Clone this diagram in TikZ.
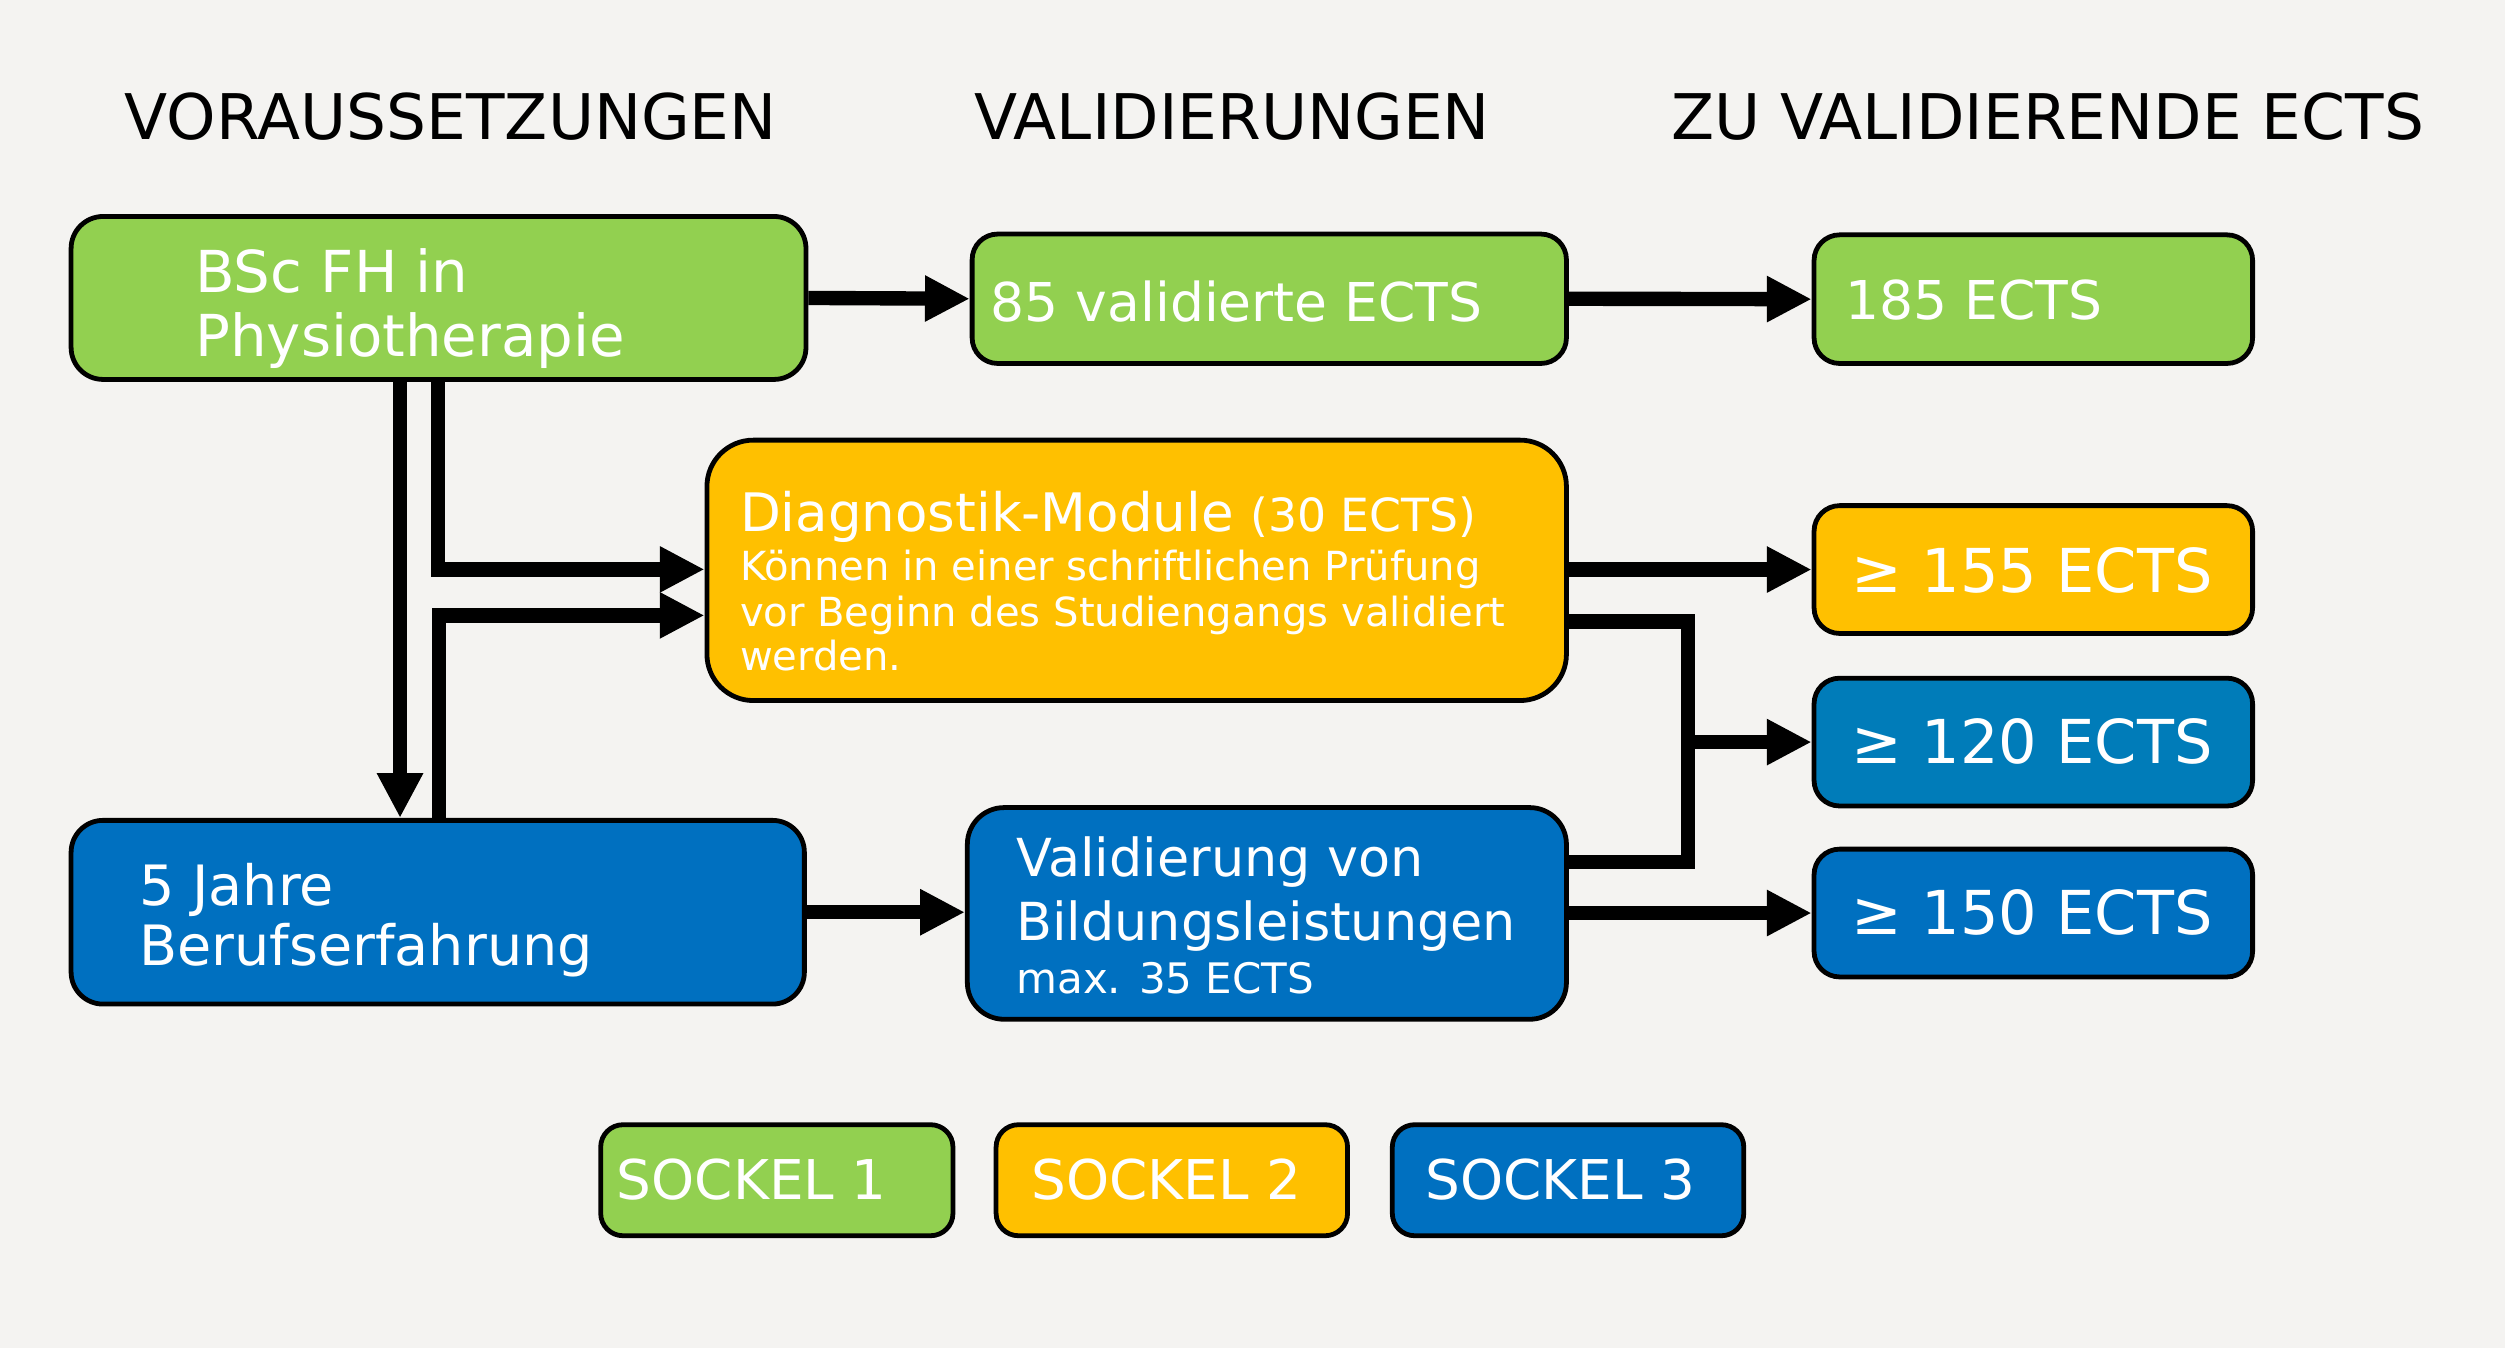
\documentclass[tikz,border=0pt]{standalone}
\usepackage{fontspec}
\setmainfont{DejaVu Sans}
\usetikzlibrary{arrows.meta,calc}
\definecolor{bgc}{HTML}{F4F3F1}
\definecolor{cgreen}{HTML}{92D050}
\definecolor{corange}{HTML}{FFC000}
\definecolor{cblue}{HTML}{0070C0}
\definecolor{cteal}{HTML}{007CB9}
\newcommand{\fsz}[1]{\fontsize{#1}{#1}\selectfont}
\begin{document}
\begin{tikzpicture}[x=1pt,y=-1pt,
  boxnode/.style={draw=black,line width=3pt,rounded corners=#1,inner sep=0pt},
  boxnode/.default=16pt,
  txt/.style={anchor=base west,inner sep=0pt,text=white},
  head/.style={anchor=base west,inner sep=0pt,text=black,font=\fsz{39.4}},
  arr/.style={line width=9pt,-{Triangle[length=28pt,width=27pt]}},
  conn/.style={line width=9pt}]
\fill[bgc] (0,0) rectangle (1568,843.8);
\useasboundingbox (0,0) rectangle (1568,843.8);

% headings
\node[head] (h1) at (78,87.6) {VORAUSSETZUNGEN};
\node[head] (h2) at (610,87.6) {VALIDIERUNGEN};
\node[head] (h3) at (1046,87.6) {ZU VALIDIERENDE ECTS};

% boxes
\node[boxnode=20pt,fill=cgreen,minimum width=460pt,minimum height=102pt] (bsc) at (274.5,186.5) {};
\node[boxnode,fill=cgreen,minimum width=372pt,minimum height=81pt] (v85) at (794.5,187) {};
\node[boxnode,fill=cgreen,minimum width=274.5pt,minimum height=80.5pt] (e185) at (1272.75,187.25) {};
\node[boxnode=29pt,fill=corange,minimum width=538pt,minimum height=163pt] (diag) at (711.5,357) {};
\node[boxnode,fill=corange,minimum width=274.5pt,minimum height=80pt] (e155) at (1272.75,356.5) {};
\node[boxnode,fill=cteal,minimum width=274.5pt,minimum height=80pt] (e120) at (1272.75,464.5) {};
\node[boxnode,fill=cblue,minimum width=274.5pt,minimum height=80pt] (e150) at (1272.75,571.5) {};
\node[boxnode=20pt,fill=cblue,minimum width=459pt,minimum height=115pt] (jahre) at (274,571) {};
\node[boxnode=23pt,fill=cblue,minimum width=375pt,minimum height=132.5pt] (valid) at (793,571.75) {};
\node[boxnode=14pt,fill=cgreen,minimum width=220.5pt,minimum height=69.5pt] (s1) at (486.25,738.75) {};
\node[boxnode=14pt,fill=corange,minimum width=220pt,minimum height=69.5pt] (s2) at (733.5,738.75) {};
\node[boxnode=14pt,fill=cblue,minimum width=220pt,minimum height=69.5pt] (s3) at (981.5,738.75) {};

% texts
\node[txt,font=\fsz{36.2}] (tb1) at (122,183) {BSc FH in};
\node[txt,font=\fsz{36.2}] (tb2) at (122,223) {Physiotherapie};
\node[txt,font=\fsz{33.5}] (t85) at (620,201) {85 validierte ECTS};
\node[txt,font=\fsz{33.5}] (t185) at (1155,200) {185 ECTS};
\node[txt,font=\fsz{33.2}] (td1) at (463,332.4) {Diagnostik-Module {\fsz{28.6}(30 ECTS)}};
\node[txt,font=\fsz{25.1}] (td2) at (463,363.5) {Können in einer schriftlichen Prüfung};
\node[txt,font=\fsz{25.1}] (td3) at (463,392.3) {vor Beginn des Studiengangs validiert};
\node[txt,font=\fsz{25.1}] (td4) at (463,419.8) {werden.};
\node[txt,font=\fsz{37.9}] (t155) at (1159,371) {≥ 155 ECTS};
\node[txt,font=\fsz{37.9}] (t120) at (1159,478) {≥ 120 ECTS};
\node[txt,font=\fsz{37.9}] (t150) at (1159,585) {≥ 150 ECTS};
\node[txt,font=\fsz{34.8}] (tj1) at (87,567) {5 Jahre};
\node[txt,font=\fsz{34.8}] (tj2) at (87,604.6) {Berufserfahrung};
\node[txt,font=\fsz{32.8}] (tv1) at (636,548.7) {Validierung von};
\node[txt,font=\fsz{32.8}] (tv2) at (636,588.4) {Bildungsleistungen};
\node[txt,font=\fsz{26.3}] (tv3) at (636,621.8) {max. 35 ECTS};
\node[txt,font=\fsz{34.3}] (ts1) at (386,751) {SOCKEL 1};
\node[txt,font=\fsz{34.3}] (ts2) at (645.5,751) {SOCKEL 2};
\node[txt,font=\fsz{34.3}] (ts3) at (892,751) {SOCKEL 3};

% connector coordinates
\coordinate (cA) at (250.4,300);
\coordinate (cB) at (274,356.4);
\coordinate (cC) at (274.7,385.2);
\coordinate (cD) at (1056.5,389);
\coordinate (cE) at (1056.5,539.4);

% connectors
\draw[arr] (bsc.east) -- (v85.west);
\draw[arr] (v85.east) -- (e185.west);
\draw[arr] (cA |- bsc.south) -- (cA |- jahre.north);
\draw[arr] (cB |- bsc.south) -- (cB) -- (diag.west |- cB);
\draw[arr] (cC |- jahre.north) -- (cC) -- (diag.west |- cC);
\draw[arr] (diag.east |- e155.west) -- (e155.west);
\draw[conn] (diag.east |- cD) -- (cD) -- (cE) -- (valid.east |- cE);
\draw[arr] (cD |- e120.west) -- (e120.west);
\draw[arr] (valid.east |- e150.west) -- (e150.west);
\draw[arr] (jahre.east) -- (valid.west |- jahre.east);
\end{tikzpicture}
\end{document}
